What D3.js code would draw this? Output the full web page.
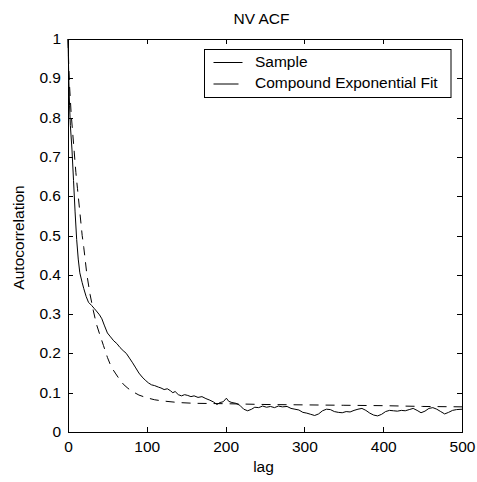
<!DOCTYPE html>
<html>
<head>
<meta charset="utf-8">
<script src="https://cdn.jsdelivr.net/npm/d3@7"></script>
<style>
  body { margin: 0; background: #fff; }
  text { font-family: "Liberation Sans", Arial, sans-serif; }
</style>
</head>
<body>
<script>
// sample autocorrelation
var sampleLag = [0, 1, 2, 3, 5, 7, 9, 11, 13, 15, 18, 20, 23, 26, 30, 33, 36, 40, 43, 46, 50, 54, 58, 62, 66, 70, 74, 78, 82, 86, 90, 94, 98, 102, 106, 110, 115, 118, 122, 126, 130, 133, 136, 140, 144, 148, 152, 156, 160, 165, 170, 175, 180, 185, 189, 193, 197, 201, 204, 208, 213, 218, 223, 228, 233, 237, 242, 247, 252, 257, 262, 267, 272, 278, 283, 288, 293, 298, 303, 308, 313, 318, 323, 328, 333, 338, 343, 348, 353, 358, 363, 368, 373, 378, 383, 388, 393, 398, 403, 408, 413, 418, 423, 428, 433, 438, 443, 448, 453, 458, 463, 468, 473, 478, 483, 488, 493, 500];
var sampleAcf = [1.0, 0.90, 0.83, 0.78, 0.72, 0.64, 0.56, 0.49, 0.44, 0.405, 0.38, 0.365, 0.345, 0.33, 0.322, 0.315, 0.308, 0.298, 0.288, 0.272, 0.252, 0.242, 0.232, 0.225, 0.215, 0.207, 0.2, 0.188, 0.176, 0.163, 0.15, 0.14, 0.132, 0.125, 0.12, 0.118, 0.114, 0.112, 0.108, 0.11, 0.105, 0.10, 0.103, 0.095, 0.092, 0.095, 0.093, 0.09, 0.092, 0.088, 0.09, 0.085, 0.081, 0.076, 0.070, 0.075, 0.077, 0.086, 0.078, 0.075, 0.073, 0.068, 0.058, 0.054, 0.058, 0.063, 0.062, 0.066, 0.063, 0.065, 0.062, 0.066, 0.064, 0.065, 0.06, 0.058, 0.056, 0.05, 0.048, 0.045, 0.042, 0.046, 0.054, 0.058, 0.057, 0.052, 0.05, 0.049, 0.052, 0.051, 0.055, 0.058, 0.06, 0.055, 0.048, 0.043, 0.041, 0.045, 0.052, 0.055, 0.054, 0.053, 0.055, 0.054, 0.057, 0.06, 0.055, 0.049, 0.053, 0.06, 0.062, 0.058, 0.052, 0.046, 0.05, 0.055, 0.057, 0.058];

// compound exponential fit
var fitLag = [0, 1, 2, 4, 6, 8, 10, 12, 15, 18, 20, 24, 28, 32, 36, 40, 45, 50, 55, 60, 65, 70, 75, 80, 90, 100, 110, 120, 140, 160, 200, 250, 300, 350, 400, 450, 500];
var fitAcf = [1.0, 0.93, 0.88, 0.81, 0.76, 0.71, 0.66, 0.62, 0.56, 0.50, 0.47, 0.40, 0.35, 0.31, 0.275, 0.25, 0.22, 0.19, 0.165, 0.15, 0.135, 0.122, 0.113, 0.105, 0.094, 0.087, 0.082, 0.079, 0.075, 0.073, 0.072, 0.070, 0.069, 0.068, 0.067, 0.065, 0.064];

var xTicks = [0, 100, 200, 300, 400, 500];
var yTicks = [0, 0.1, 0.2, 0.3, 0.4, 0.5, 0.6, 0.7, 0.8, 0.9, 1];
var legendNames = ["Sample", "Compound Exponential Fit"];

var sample = sampleLag.map((d, i) => ({ lag: d, v: sampleAcf[i] }));
var fit = fitLag.map((d, i) => ({ lag: d, v: fitAcf[i] }));

var margin = { top: 39, right: 15, bottom: 50, left: 68 };
var width = 477 - margin.left - margin.right;
var height = 482 - margin.top - margin.bottom;

var x = d3.scaleLinear().domain([0, 500]).range([0, width]);
var y = d3.scaleLinear().domain([0, 1]).range([height, 0]);

var svg = d3.select("body").append("svg")
    .attr("width", 477)
    .attr("height", 482)
    .append("g")
    .attr("transform", "translate(" + margin.left + "," + margin.top + ")");

var fontSize = "15.5px";

// curves
var line = d3.line().x(d => x(d.lag)).y(d => y(d.v));

svg.append("path")
    .datum(fit)
    .attr("fill", "none")
    .attr("stroke", "#000")
    .attr("stroke-width", 1)
    .attr("stroke-dasharray", "9,7")
    .attr("d", line);

svg.append("path")
    .datum(sample)
    .attr("fill", "none")
    .attr("stroke", "#000")
    .attr("stroke-width", 1)
    .attr("d", line);

// axes, ticks pointing inward on all four sides
var left = svg.append("g")
    .call(d3.axisLeft(y).tickValues(yTicks).tickSize(-5).tickSizeOuter(0).tickPadding(7)
        .tickFormat(d => d3.format("")(+d.toFixed(1))));
var bottom = svg.append("g")
    .attr("transform", "translate(0," + height + ")")
    .call(d3.axisBottom(x).tickValues(xTicks).tickSize(-5).tickSizeOuter(0).tickPadding(9));
svg.append("g")
    .call(d3.axisTop(x).tickValues(xTicks).tickSize(-5).tickSizeOuter(0).tickFormat(""));
svg.append("g")
    .attr("transform", "translate(" + width + ",0)")
    .call(d3.axisRight(y).tickValues(yTicks).tickSize(-5).tickSizeOuter(0).tickFormat(""));

svg.selectAll(".domain, .tick line").attr("stroke", "#000").attr("shape-rendering", "crispEdges");
svg.selectAll(".tick text")
    .attr("fill", "#000")
    .style("font-family", "'Liberation Sans', Arial, sans-serif")
    .style("font-size", fontSize);
left.selectAll(".tick text").attr("dy", "4.5px");

// title and axis labels
svg.append("text")
    .attr("x", 261.5 - margin.left)
    .attr("y", 24 - margin.top)
    .attr("text-anchor", "middle")
    .style("font-size", fontSize)
    .text("NV ACF");

svg.append("text")
    .attr("x", 263.5 - margin.left)
    .attr("y", 472 - margin.top)
    .attr("text-anchor", "middle")
    .style("font-size", fontSize)
    .text("lag");

svg.append("text")
    .attr("transform", "translate(" + (23.5 - margin.left) + "," + (237.5 - margin.top) + ") rotate(-90)")
    .attr("text-anchor", "middle")
    .style("font-size", fontSize)
    .text("Autocorrelation");

// legend
var legend = svg.append("g")
    .attr("transform", "translate(" + (204.5 - margin.left) + "," + (49.5 - margin.top) + ")");

legend.append("rect")
    .attr("width", 246.5)
    .attr("height", 48)
    .attr("fill", "#fff")
    .attr("stroke", "#000")
    .attr("stroke-width", 1);

legend.selectAll("line")
    .data(legendNames)
    .enter().append("line")
    .attr("x1", 9)
    .attr("x2", (d, i) => i == 0 ? 38 : 34)
    .attr("y1", (d, i) => 13 + i * 21.5)
    .attr("y2", (d, i) => 13 + i * 21.5)
    .attr("stroke", "#000")
    .attr("stroke-width", 1)
    .attr("stroke-dasharray", (d, i) => i == 0 ? null : "25,10");

legend.selectAll("text")
    .data(legendNames)
    .enter().append("text")
    .attr("x", 50.5)
    .attr("y", (d, i) => 17 + i * 21.5)
    .style("font-size", fontSize)
    .text(d => d);
</script>
</body>
</html>
